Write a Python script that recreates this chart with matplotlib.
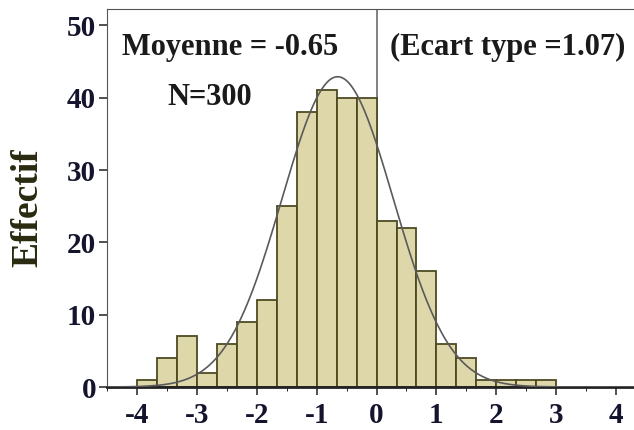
import matplotlib
matplotlib.use('Agg')
import matplotlib.pyplot as plt
import numpy as np

# histogram: bins of 1/3 from -4 to 3
bin_edges = np.arange(-4, 3 + 1e-9, 1 / 3)
counts = [1, 4, 7, 2, 6, 9, 12, 25, 38, 41, 40, 40, 23, 22, 16, 6, 4, 1, 1, 1, 1]

n_total = 300
mean_label = -0.65
sd_label = 1.07
# the fitted curve as drawn (peak ~43)
curve_mean = -0.65
curve_sd = 0.93

xticks = [-4, -3, -2, -1, 0, 1, 2, 3, 4]
yticks = [0, 10, 20, 30, 40, 50]

plt.rcParams['font.family'] = ['Liberation Serif', 'DejaVu Serif']
plt.rcParams['font.weight'] = 'bold'
plt.rcParams['axes.unicode_minus'] = False

fig = plt.figure(figsize=(6.34, 4.30), dpi=100)
ax = fig.add_axes([0.169, 0.1, 0.831, 0.878])

widths = np.diff(bin_edges)
ax.bar(bin_edges[:-1], counts, width=widths, align='edge',
       color='#ddd7aa', edgecolor='#4d4a22', linewidth=1.3, zorder=2)

xs = np.linspace(-4.5, 4.5, 400)
bw = 1 / 3
ys = n_total * bw / (curve_sd * np.sqrt(2 * np.pi)) * np.exp(-(xs - curve_mean) ** 2 / (2 * curve_sd ** 2))
ax.plot(xs, ys, color='#5a5a5a', linewidth=1.2, zorder=3)

ax.axvline(0, color='#777777', linewidth=1.3, zorder=1)

ax.set_xlim(-4.47, 4.3)
ax.set_ylim(0, 52.2)
ax.set_xticks(xticks)
ax.set_xticks(np.arange(-4.5, 4.5, 0.5), minor=True)
ax.set_yticks(yticks)
ax.tick_params(axis='both', labelsize=21, colors='#333333', labelcolor='#14142e', width=1.2)
ax.tick_params(axis='x', which='major', length=6, pad=5)
ax.tick_params(axis='x', which='minor', length=3)
ax.tick_params(axis='y', length=6, pad=2)

ax.spines['right'].set_visible(False)
ax.spines['top'].set_color('#555555')
ax.spines['left'].set_color('#555555')
ax.spines['bottom'].set_linewidth(2)
ax.spines['bottom'].set_color('#222222')

ax.set_ylabel('Effectif', fontsize=27, fontweight='bold', color='#2a2a10')
ax.yaxis.set_label_coords(-0.117, 0.475)

ax.text(-4.25, 47, f'Moyenne = {mean_label}', fontsize=22, va='center', color='#1a1a1a')
ax.text(0.22, 47, f'(Ecart type ={sd_label})', fontsize=22, va='center', color='#1a1a1a')
ax.text(-3.5, 40, f'N={n_total}', fontsize=22, va='center', color='#1a1a1a')

fig.savefig('out.png', dpi=100)
